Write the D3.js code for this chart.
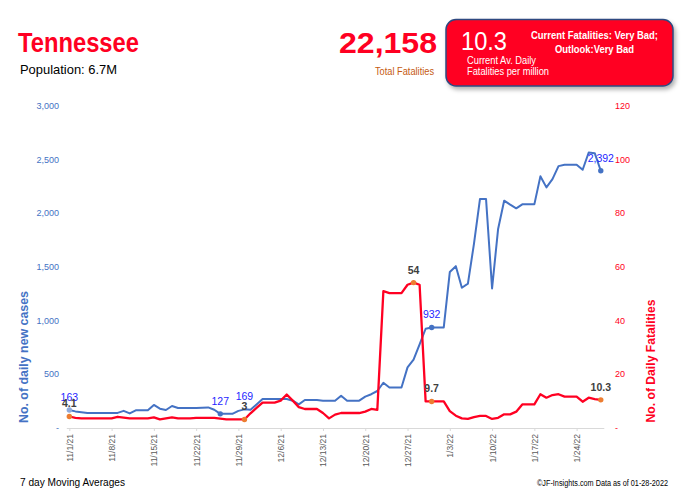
<!DOCTYPE html>
<html>
<head>
<meta charset="utf-8">
<script src="https://cdn.jsdelivr.net/npm/d3@7"></script>
<style>
  body { margin: 0; background: #fff; }
  svg { display: block; font-family: "Liberation Sans", Arial, sans-serif; }
</style>
</head>
<body>
<svg width="684" height="496"></svg>
<script>
// 7 day moving averages, one value per day from 11/1/21 to 1/28/22
const startDate = "2021-11-01";
const tickLabels = ["11/1/21", "11/8/21", "11/15/21", "11/22/21", "11/29/21", "12/6/21", "12/13/21",
  "12/20/21", "12/27/21", "1/3/22", "1/10/22", "1/17/22", "1/24/22"];
const cases = [163, 150, 143, 136, 136, 136, 136, 136, 136, 155, 131, 160, 160, 160, 210, 175, 163, 200,
  182, 182, 182, 182, 185, 187, 165, 127, 127, 127, 155, 169, 165, 215, 265, 265, 265, 265, 265, 250,
  216, 256, 256, 256, 250, 250, 250, 296, 250, 250, 250, 287, 310, 340, 417, 373, 373, 373, 560, 633,
  775, 920, 932, 932, 932, 1448, 1503, 1302, 1340, 1711, 2130, 2130, 1296, 1850, 2113, 2076, 2042,
  2079, 2079, 2079, 2340, 2237, 2314, 2435, 2448, 2448, 2448, 2401, 2562, 2556, 2392];
const deaths = [4.1, 3.6, 3.4, 3.4, 3.4, 3.4, 3.4, 3.4, 4.0, 3.7, 3.4, 3.4, 3.4, 3.4, 3.8, 3.0, 3.4, 3.8,
  3.4, 3.4, 3.4, 3.6, 3.6, 3.6, 3.6, 3.3, 3.0, 3.0, 3.0, 3, 5.3, 7.3, 9.3, 9.3, 9.3, 10.0, 12.3, 10.0,
  7.6, 6.9, 6.9, 6.9, 5.4, 3.4, 4.8, 5.4, 5.4, 5.4, 5.4, 5.9, 6.9, 6.6, 50.8, 50.1, 50.1, 50.1, 53.2, 54,
  53.2, 9.7, 9.7, 9.7, 9.7, 6.1, 4.4, 3.4, 3.2, 3.9, 4.3, 4.3, 3.2, 3.6, 4.9, 4.9, 5.9, 8.6, 8.6, 8.6,
  12.4, 11.1, 12.1, 12.4, 11.5, 11.5, 11.5, 9.6, 11.1, 10.6, 10.3];
const caseTicks = [0, 500, 1000, 1500, 2000, 2500, 3000];
const deathTicks = [0, 20, 40, 60, 80, 100, 120];
const caseLabelAt = [0, 25, 29, 60, 88];
const caseDotAt = [0, 25, 60, 88];
const deathLabelAt = [0, 29, 57, 60, 88];

const blue = "#4472C4", red = "#FF0022", orange = "#ED7D31";
const svg = d3.select("svg");

const start = d3.utcParse("%Y-%m-%d")(startDate);
const dates = cases.map((_, i) => d3.utcDay.offset(start, i));
const parseTick = d3.utcParse("%m/%d/%y");

const x = d3.scaleUtc()
  .domain([d3.utcHour.offset(start, -12), d3.utcHour.offset(dates[dates.length - 1], 12)])
  .range([66.3, 603.8]);
const yL = d3.scaleLinear().domain([0, 3000]).range([427.5, 105.5]);
const yR = d3.scaleLinear().domain([0, 120]).range([427.5, 105.5]);

// shadow for the summary box
svg.append("defs").append("filter").attr("id", "shadow")
  .attr("x", "-10%").attr("y", "-10%").attr("width", "130%").attr("height", "140%")
  .append("feDropShadow")
  .attr("dx", 2).attr("dy", 3).attr("stdDeviation", 2)
  .attr("flood-color", "#000").attr("flood-opacity", 0.3);

// header
svg.append("text").attr("x", 18).attr("y", 52).attr("fill", red)
  .attr("font-size", 28).attr("font-weight", "bold")
  .attr("textLength", 121).attr("lengthAdjust", "spacingAndGlyphs").text("Tennessee");
svg.append("text").attr("x", 20).attr("y", 74).attr("fill", "#000")
  .attr("font-size", 13).attr("textLength", 97).attr("lengthAdjust", "spacingAndGlyphs")
  .text("Population: 6.7M");
svg.append("text").attr("x", 339).attr("y", 53).attr("fill", red)
  .attr("font-size", 30).attr("font-weight", "bold")
  .attr("textLength", 98).attr("lengthAdjust", "spacingAndGlyphs").text("22,158");
svg.append("text").attr("x", 375).attr("y", 75).attr("fill", "#C55A11")
  .attr("font-size", 10).attr("textLength", 59).attr("lengthAdjust", "spacingAndGlyphs")
  .text("Total Fatalities");

svg.append("rect").attr("x", 446).attr("y", 19.5).attr("width", 227).attr("height", 66.5)
  .attr("rx", 10).attr("fill", red).attr("stroke", "#2F4A80").attr("stroke-width", 1.5)
  .attr("filter", "url(#shadow)");
svg.append("text").attr("x", 461).attr("y", 50).attr("fill", "#fff")
  .attr("font-size", 25).attr("textLength", 46).attr("lengthAdjust", "spacingAndGlyphs").text("10.3");
svg.append("text").attr("x", 594.5).attr("y", 39).attr("fill", "#fff").attr("text-anchor", "middle")
  .attr("font-size", 10.5).attr("font-weight", "bold")
  .attr("textLength", 127).attr("lengthAdjust", "spacingAndGlyphs").text("Current Fatalities: Very Bad;");
svg.append("text").attr("x", 594.5).attr("y", 53).attr("fill", "#fff").attr("text-anchor", "middle")
  .attr("font-size", 10.5).attr("font-weight", "bold")
  .attr("textLength", 79).attr("lengthAdjust", "spacingAndGlyphs").text("Outlook:Very Bad");
svg.append("text").attr("x", 467).attr("y", 64).attr("fill", "#fff")
  .attr("font-size", 10).attr("textLength", 69).attr("lengthAdjust", "spacingAndGlyphs")
  .text("Current Av. Daily");
svg.append("text").attr("x", 467).attr("y", 74.5).attr("fill", "#fff")
  .attr("font-size", 10).attr("textLength", 82).attr("lengthAdjust", "spacingAndGlyphs")
  .text("Fatalities per million");

// x axis
const xAxis = svg.append("g").attr("transform", "translate(0,428)")
  .call(d3.axisBottom(x)
    .tickValues(tickLabels.map(parseTick))
    .tickFormat((d, i) => tickLabels[i])
    .tickSize(3).tickSizeOuter(0));
xAxis.select(".domain").attr("stroke", "#D9D9D9");
xAxis.selectAll(".tick line").attr("stroke", "#D9D9D9");
xAxis.selectAll(".tick text")
  .attr("transform", "rotate(-90)")
  .attr("x", -6).attr("y", 0).attr("dy", "0.35em")
  .attr("text-anchor", "end")
  .attr("fill", "#595959").attr("font-size", 8.5)
  .attr("font-family", "\"Liberation Sans\", Arial, sans-serif");

// left axis
const leftAxis = svg.append("g").attr("transform", "translate(62,0)")
  .call(d3.axisLeft(yL).tickValues(caseTicks).tickSize(0).tickPadding(3)
    .tickFormat(d => d === 0 ? "-" : d3.format(",")(d)));
leftAxis.select(".domain").remove();
leftAxis.selectAll("text").attr("fill", blue).attr("font-size", 9)
  .attr("font-family", "\"Liberation Sans\", Arial, sans-serif");

// right axis
const rightAxis = svg.append("g").attr("transform", "translate(612,0)")
  .call(d3.axisRight(yR).tickValues(deathTicks).tickSize(0).tickPadding(3)
    .tickFormat(d => d === 0 ? "-" : d));
rightAxis.select(".domain").remove();
rightAxis.selectAll("text").attr("fill", red).attr("font-size", 9)
  .attr("font-family", "\"Liberation Sans\", Arial, sans-serif");

// axis titles
svg.append("text").attr("transform", "translate(23,357) rotate(-90)")
  .attr("text-anchor", "middle").attr("dominant-baseline", "central")
  .attr("fill", blue).attr("font-size", 13).attr("font-weight", "bold")
  .attr("textLength", 132).attr("lengthAdjust", "spacingAndGlyphs")
  .text("No. of daily new  cases");
svg.append("text").attr("transform", "translate(650,361) rotate(-90)")
  .attr("text-anchor", "middle").attr("dominant-baseline", "central")
  .attr("fill", red).attr("font-size", 13).attr("font-weight", "bold")
  .attr("textLength", 123).attr("lengthAdjust", "spacingAndGlyphs")
  .text("No. of Daily Fatalities");

// lines
const caseLine = d3.line().x((d, i) => x(dates[i])).y(d => yL(d));
const deathLine = d3.line().x((d, i) => x(dates[i])).y(d => yR(d));
svg.append("path").datum(cases).attr("d", caseLine)
  .attr("fill", "none").attr("stroke", blue).attr("stroke-width", 2).attr("stroke-linejoin", "round");
svg.append("path").datum(deaths).attr("d", deathLine)
  .attr("fill", "none").attr("stroke", red).attr("stroke-width", 2.3).attr("stroke-linejoin", "round");

// markers
svg.selectAll(".cdot").data(caseDotAt).join("circle").attr("class", "cdot")
  .attr("cx", i => x(dates[i])).attr("cy", i => yL(cases[i])).attr("r", 2.7)
  .attr("fill", (i, k) => k === 0 ? "#8FAADC" : blue);
svg.selectAll(".ddot").data(deathLabelAt).join("circle").attr("class", "ddot")
  .attr("cx", i => x(dates[i])).attr("cy", i => yR(deaths[i])).attr("r", 2.7)
  .attr("fill", orange);

// data labels
svg.selectAll(".clab").data(caseLabelAt).join("text").attr("class", "clab")
  .attr("x", i => x(dates[i])).attr("y", i => yL(cases[i]) - 9)
  .attr("text-anchor", "middle").attr("fill", "#1F1FFF").attr("font-size", 10.5)
  .text(i => d3.format(",")(cases[i]));
svg.selectAll(".dlab").data(deathLabelAt).join("text").attr("class", "dlab")
  .attr("x", i => x(dates[i])).attr("y", i => yR(deaths[i]) - 9)
  .attr("text-anchor", "middle").attr("fill", "#404040").attr("font-size", 10.5)
  .attr("font-weight", "bold")
  .text(i => deaths[i]);

// footer
svg.append("text").attr("x", 20).attr("y", 486).attr("fill", "#000")
  .attr("font-size", 10).attr("textLength", 105).attr("lengthAdjust", "spacingAndGlyphs")
  .text("7 day Moving Averages");
svg.append("text").attr("x", 537).attr("y", 486).attr("fill", "#000")
  .attr("font-size", 8.5).attr("textLength", 131).attr("lengthAdjust", "spacingAndGlyphs")
  .text("©JF-Insights.com  Data as of 01-28-2022");
</script>
</body>
</html>
